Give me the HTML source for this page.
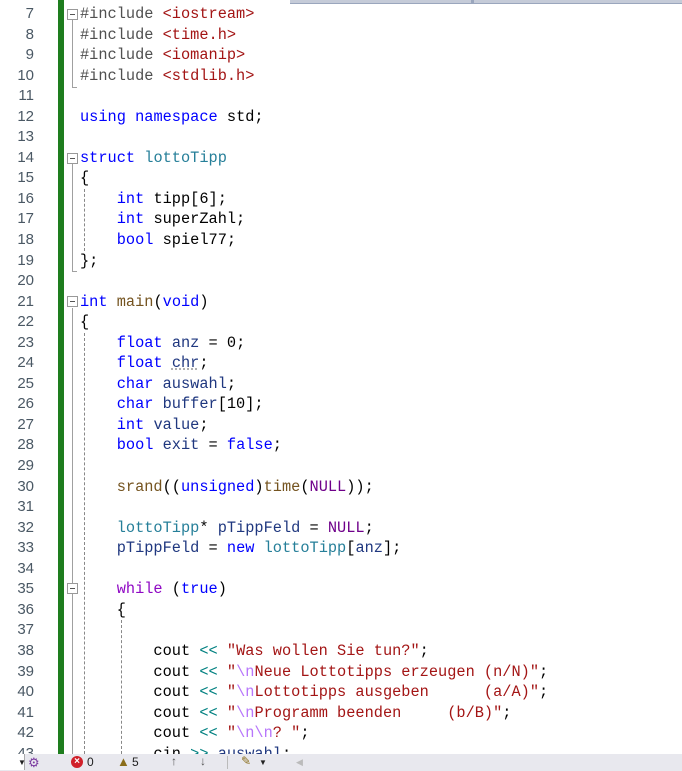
<!DOCTYPE html>
<html><head><meta charset="utf-8"><style>
body{margin:0;width:682px;height:771px;overflow:hidden;background:#fff;position:relative;font-family:"Liberation Mono",monospace;}
.top{position:absolute;left:290px;top:0;width:392px;height:3px;background:#c5cbd8;border-bottom:1px solid #9aa6bd}
.top i{position:absolute;left:181px;top:0;width:3px;height:4px;background:#9aa6bd}
.nums{position:absolute;left:0;top:4px;width:34px;text-align:right;line-height:20.54px;color:#4a5864;font-family:"Liberation Sans","DejaVu Sans",sans-serif;font-size:15px}
.green{position:absolute;left:58px;top:0;width:6px;height:754px;background:#1e7d1e}
.code{position:absolute;left:80px;top:4px;font-size:15.3px;line-height:20.54px;white-space:pre;color:#000}
.pp{color:#505050}.s{color:#a31515}.k{color:#0000ff}.t{color:#267f99}.f{color:#74531f}.v{color:#1f377f}.m{color:#6f008a}.c{color:#8f08c4}.o{color:#008080}.e{color:#b776fb}
.box{position:absolute;left:67px;width:9px;height:9px;border:1px solid #999;background:#fff}
.box:after{content:"";position:absolute;left:2px;top:4px;width:5px;height:1px;background:#555}
.sl{position:absolute;left:72px;width:1px;background:#a0a0a0}
.dl{position:absolute;width:0;border-left:1px dashed #888}
.status{position:absolute;left:0;top:754px;width:682px;height:17px;background:#e8e8ee;font-family:"Liberation Sans",sans-serif;font-size:12px;color:#222}
</style></head><body>
<div class="top"><i></i></div>
<div class="nums">7<br>8<br>9<br>10<br>11<br>12<br>13<br>14<br>15<br>16<br>17<br>18<br>19<br>20<br>21<br>22<br>23<br>24<br>25<br>26<br>27<br>28<br>29<br>30<br>31<br>32<br>33<br>34<br>35<br>36<br>37<br>38<br>39<br>40<br>41<br>42<br>43</div>
<div class="green"></div>
<div class="sl" style="top:20px;height:68px"></div><div class="sl" style="top:87px;left:72px;width:5px;height:1px"></div>
<div class="sl" style="top:164px;height:108px"></div><div class="sl" style="top:271px;width:5px;height:1px"></div>
<div class="sl" style="top:308px;height:446px"></div>
<div class="dl" style="left:84px;top:189px;height:62px"></div>
<div class="dl" style="left:84px;top:333px;height:421px"></div>
<div class="dl" style="left:121px;top:620px;height:134px"></div>
<div class="box" style="top:9px"></div>
<div class="box" style="top:153px"></div>
<div class="box" style="top:296px"></div>
<div class="box" style="top:583px"></div>
<div class="code"><span class="pp">#include</span> <span class="s">&lt;iostream&gt;</span>
<span class="pp">#include</span> <span class="s">&lt;time.h&gt;</span>
<span class="pp">#include</span> <span class="s">&lt;iomanip&gt;</span>
<span class="pp">#include</span> <span class="s">&lt;stdlib.h&gt;</span>

<span class="k">using</span> <span class="k">namespace</span> std;

<span class="k">struct</span> <span class="t">lottoTipp</span>
{
    <span class="k">int</span> tipp[6];
    <span class="k">int</span> superZahl;
    <span class="k">bool</span> spiel77;
};

<span class="k">int</span> <span class="f">main</span>(<span class="k">void</span>)
{
    <span class="k">float</span> <span class="v">anz</span> = 0;
    <span class="k">float</span> <span class="v" style="text-decoration:underline dotted #999">chr</span>;
    <span class="k">char</span> <span class="v">auswahl</span>;
    <span class="k">char</span> <span class="v">buffer</span>[10];
    <span class="k">int</span> <span class="v">value</span>;
    <span class="k">bool</span> <span class="v">exit</span> = <span class="k">false</span>;

    <span class="f">srand</span>((<span class="k">unsigned</span>)<span class="f">time</span>(<span class="m">NULL</span>));

    <span class="t">lottoTipp</span>* <span class="v">pTippFeld</span> = <span class="m">NULL</span>;
    <span class="v">pTippFeld</span> = <span class="k">new</span> <span class="t">lottoTipp</span>[<span class="v">anz</span>];

    <span class="c">while</span> (<span class="k">true</span>)
    {

        cout <span class="o">&lt;&lt;</span> <span class="s">"Was wollen Sie tun?"</span>;
        cout <span class="o">&lt;&lt;</span> <span class="s">"<span class="e">\n</span>Neue Lottotipps erzeugen (n/N)"</span>;
        cout <span class="o">&lt;&lt;</span> <span class="s">"<span class="e">\n</span>Lottotipps ausgeben      (a/A)"</span>;
        cout <span class="o">&lt;&lt;</span> <span class="s">"<span class="e">\n</span>Programm beenden     (b/B)"</span>;
        cout <span class="o">&lt;&lt;</span> <span class="s">"<span class="e">\n\n</span>? "</span>;
        cin <span class="o">&gt;&gt;</span> <span class="v">auswahl</span>;</div>
<div class="status">
<div style="position:absolute;left:0;top:0;width:24px;height:16px;background:#fff;border-right:1px solid #aaa"></div>
<div style="position:absolute;left:18px;top:4px;font-size:8px">▼</div>
<div style="position:absolute;left:28px;top:1px;color:#7a3aa0;font-size:13px">⚙</div>
<div style="position:absolute;left:71px;top:2px;width:12px;height:12px;border-radius:50%;background:#d0202a;color:#fff;font-size:10px;line-height:12px;text-align:center;font-weight:bold">×</div>
<div style="position:absolute;left:87px;top:1px">0</div>
<div style="position:absolute;left:117px;top:0;color:#8a6d1a;font-size:13px">▲</div>
<div style="position:absolute;left:132px;top:1px">5</div>
<div style="position:absolute;left:171px;top:0;color:#555">↑</div>
<div style="position:absolute;left:200px;top:0;color:#555">↓</div>
<div style="position:absolute;left:227px;top:2px;width:1px;height:13px;background:#bbb"></div>
<div style="position:absolute;left:241px;top:0;color:#8a6d1a">✎</div>
<div style="position:absolute;left:259px;top:4px;font-size:8px">▼</div>
<div style="position:absolute;left:296px;top:3px;color:#bbb;font-size:9px">◀</div>
</div>
</body></html>
